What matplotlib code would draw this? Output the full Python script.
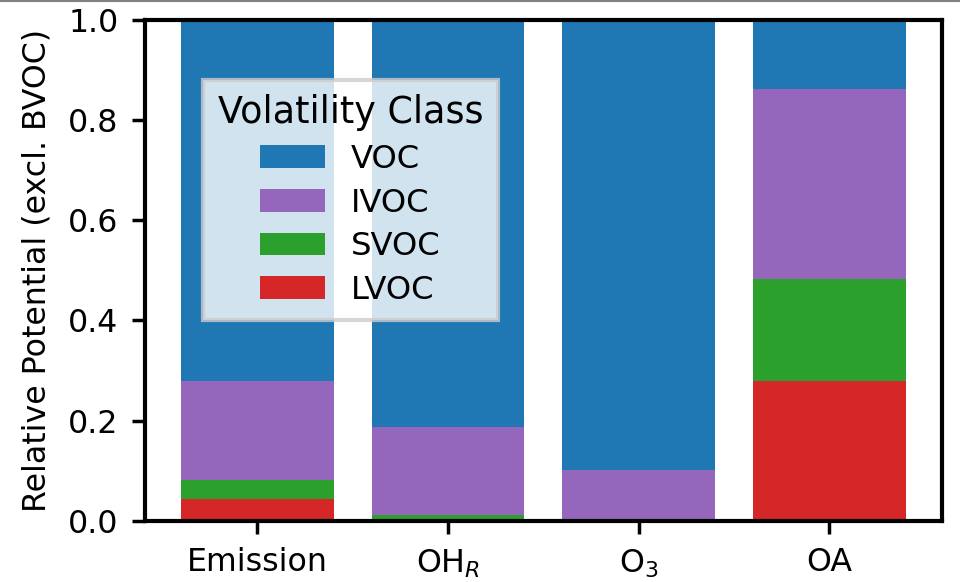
import numpy as np
import matplotlib
matplotlib.use('Agg')
from matplotlib import pyplot as plt

categories = ['Emission', 'OH$_R$', 'O$_3$', 'OA']
classes = ['VOC', 'IVOC', 'SVOC', 'LVOC']
colors = ['tab:blue', 'tab:purple', 'tab:green', 'tab:red']

# fractions per volatility class, stacked from the bottom (LVOC first)
lvoc = np.array([0.044, 0.004, 0.001, 0.280])
svoc = np.array([0.038, 0.007, 0.002, 0.203])
ivoc = np.array([0.198, 0.177, 0.099, 0.379])
voc = 1.0 - lvoc - svoc - ivoc

plt.rcParams['font.family'] = 'DejaVu Sans'
fig, ax = plt.subplots(figsize=(9.6, 5.82), dpi=100)
fig.subplots_adjust(left=0.151, right=0.981, bottom=0.105, top=0.966)

x = np.arange(len(categories))
stack = [('LVOC', lvoc), ('SVOC', svoc), ('IVOC', ivoc), ('VOC', voc)]
bottom = np.zeros(len(categories))
handles = {}
for name, vals in stack:
    c = colors[classes.index(name)]
    b = ax.bar(x, vals, 0.8, bottom=bottom, color=c, label=name)
    handles[name] = b
    bottom = bottom + vals

ax.set_ylim(0, 1)
ax.set_xticks(x)
ax.set_xticklabels(categories)
ax.set_ylabel('Relative Potential (excl. BVOC)', fontsize=22.8, labelpad=11)
ax.tick_params(labelsize=22.8, length=9.5, width=2.5, pad=9.5)
for s in ax.spines.values():
    s.set_linewidth(3)

leg = ax.legend([handles[c] for c in classes], classes, title='Volatility Class',
                loc='upper left', bbox_to_anchor=(0.073, 0.88), borderaxespad=0,
                fontsize=23.2, title_fontsize=26.3, fancybox=False,
                labelspacing=0.39, borderpad=0.45)
leg.get_frame().set_linewidth(3)

fig.add_artist(plt.Line2D([0, 1], [0.999, 0.999], color='gray', lw=1.5))
fig.savefig('out.png', dpi=100)
